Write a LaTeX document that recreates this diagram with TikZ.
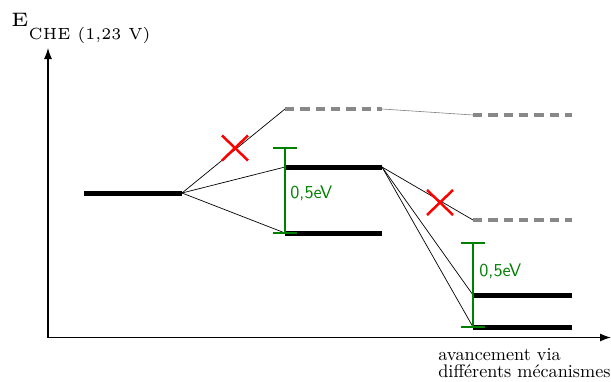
\documentclass[tikz,border=0pt]{standalone}
\usepackage{graphicx}
\usetikzlibrary{arrows.meta}
\definecolor{egreen}{RGB}{0,128,0}
\definecolor{lvgray}{RGB}{136,136,136}
\begin{document}
\begin{tikzpicture}[x=1pt,y=-1pt,
  level/.style={line width=5pt},
  dlevel/.style={line width=4pt, lvgray, dash pattern=on 9.3pt off 6pt},
  link/.style={line width=0.7pt},
  glink/.style={line width=0.6pt, gray},
  cross/.style={red, line width=2.5pt},
  gapbar/.style={egreen, line width=2pt},
  axis/.style={line width=1.2pt, -{Latex[length=11pt,width=8pt]}},
  gaplabel/.style={egreen, inner sep=0, scale=1.82, font=\sffamily, anchor=base west},
]
\useasboundingbox (0,0) rectangle (611,381);

% axes
\coordinate (O) at (48,337.5);
\coordinate (Ytip) at (48,48);
\coordinate (Xtip) at (611,337.5);
\draw[axis] (O) -- (Ytip);
\draw[axis] (O) -- (Xtip);

% level end points
\coordinate (a1) at (84,193);  \coordinate (a2) at (182,193);
\coordinate (b1) at (285,109); \coordinate (b2) at (382,109);
\coordinate (c1) at (285,167); \coordinate (c2) at (382,167);
\coordinate (d1) at (285,233); \coordinate (d2) at (382,233);
\coordinate (e1) at (473,115); \coordinate (e2) at (572,115);
\coordinate (f1) at (473,220); \coordinate (f2) at (572,220);
\coordinate (g1) at (473,295); \coordinate (g2) at (572,295);
\coordinate (h1) at (473,327); \coordinate (h2) at (572,327);

% links
\draw[link] (a2) -- (b1);
\draw[link] (a2) -- (c1);
\draw[link] (a2) -- (d1);
\draw[glink] (b2) -- (e1);
\draw[link] (c2) -- (f1);
\draw[link] (c2) -- (g1);
\draw[link] (c2) -- (h1);

% levels
\draw[level] (a1) -- (a2);
\draw[dlevel] (b1) -- (b2);
\draw[level] (c1) -- (c2);
\draw[level] (d1) -- (d2);
\draw[dlevel] (e1) -- (e2);
\draw[dlevel] (f1) -- (f2);
\draw[level] (g1) -- (g2);
\draw[level] (h1) -- (h2);

% crosses
\coordinate (x1) at (235,148);
\coordinate (x2) at (440,202.5);
\draw[cross] (x1) +(-13,-12.5) -- +(13,12.5) (x1) +(-13,12.5) -- +(13,-12.5);
\draw[cross] (x2) +(-13,-12.5) -- +(13,12.5) (x2) +(-13,12.5) -- +(13,-12.5);

% energy gaps
\coordinate (t1) at (285,148);
\coordinate (t2) at (473,242.5);
\draw[gapbar] (t1) -- (d1);
\draw[gapbar] (t1) +(-12,0) -- +(12,0) (d1) +(-12,0) -- +(12,0);
\draw[gapbar] (t2) -- (h1);
\draw[gapbar] (t2) +(-12,0) -- +(12,0) (h1) +(-12,0) -- +(12,0);
\node[gaplabel] (lab1) at (290,198) {0,5eV};
\node[gaplabel] (lab2) at (479,276) {0,5eV};

% axis labels
\node[anchor=base west, inner sep=0] (ylab) at (11,26.5)
  {\scalebox{3.9}{\fontsize{5}{6}\selectfont E}\raisebox{-12.6pt}{\scalebox{2.94}[3.24]{\fontsize{5}{6}\selectfont CHE (1,23 V)}}};
\node[anchor=north west, inner sep=0, scale=1.82, align=left,
  font=\fontsize{10}{9.2}\selectfont] (xlab) at (438,348.5)
  {avancement via\\différents mécanismes};
\end{tikzpicture}
\end{document}
